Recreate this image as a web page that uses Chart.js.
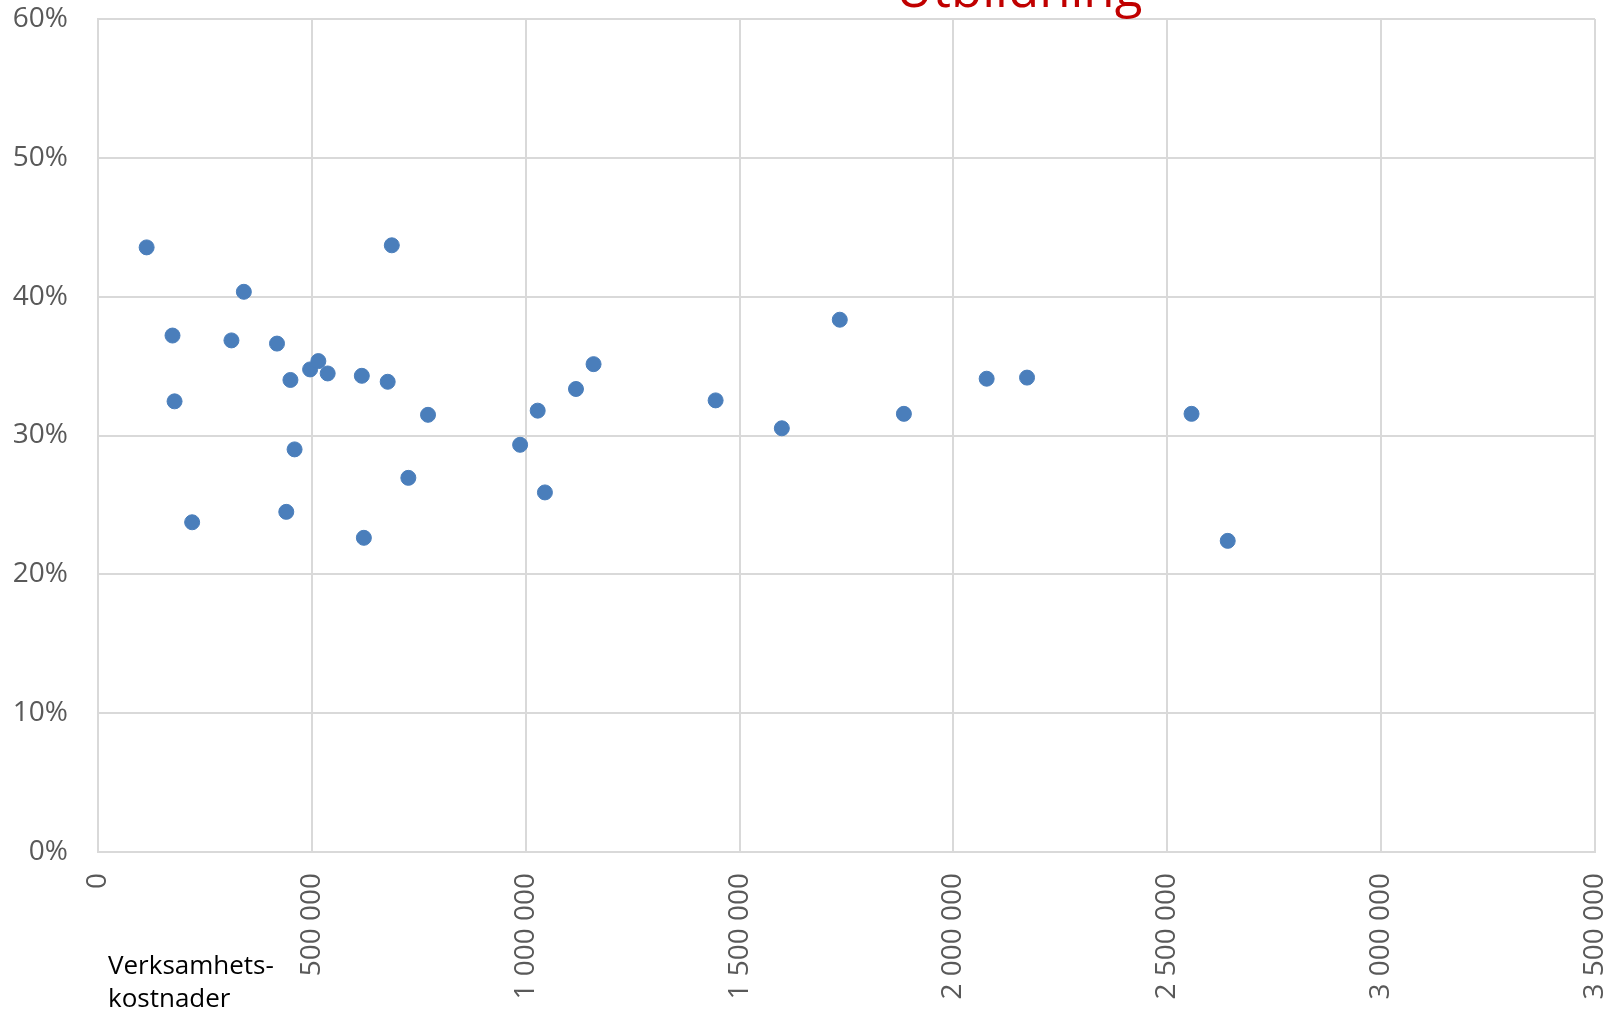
<!DOCTYPE html>
<html lang="sv">
<head>
    <meta charset="UTF-8">
    <title>Utbildning</title>
    <script src="https://cdn.jsdelivr.net/npm/chart.js"></script>
    <style>
        html, body { margin: 0; padding: 0; background: #fff; }
        #wrap { width: 1621px; height: 1014px; }
    </style>
</head>
<body>
    <div id="wrap"><canvas id="myChart"></canvas></div>

    <script>
        // Verksamhetskostnader (x) och andel (y, %)
        const costs = [113700, 174200, 179000, 220100, 312000, 341000, 418500, 440200,
            449900, 459600, 495900, 515200, 537000, 616800, 621600, 677300, 686900,
            725600, 771600, 986900, 1028000, 1044900, 1117500, 1158600, 1444000,
            1598800, 1734300, 1884200, 2077700, 2172100, 2556700, 2641300];
        const shares = [43.55, 37.2, 32.46, 23.75, 36.85, 40.35, 36.62, 24.5,
            34.0, 29.0, 34.76, 35.36, 34.47, 34.3, 22.63, 33.87, 43.7,
            26.95, 31.49, 29.33, 31.79, 25.9, 33.35, 35.14, 32.53,
            30.52, 38.34, 31.56, 34.09, 34.17, 31.56, 22.41];

        const chartTitle = 'Utbildning';
        const xAxisLabel = ['Verksamhets-', 'kostnader'];

        const points = costs.map((c, i) => ({ x: c, y: shares[i] }));

        function formatSpaces(v) {
            return String(Math.round(v)).replace(/\B(?=(\d{3})+(?!\d))/g, ' ');
        }

        // titeln sticker upp ovanför bilden, och axeltexten nere till vänster
        const extraText = {
            id: 'extraText',
            afterDraw(chart) {
                const ctx = chart.ctx;
                ctx.save();
                ctx.fillStyle = '#C00000';
                ctx.font = '51px "Open Sans"';
                ctx.textAlign = 'center';
                ctx.textBaseline = 'alphabetic';
                ctx.fillText(chartTitle, 1019, 7);

                ctx.fillStyle = '#000';
                ctx.font = '26px "Open Sans"';
                ctx.textAlign = 'left';
                ctx.textBaseline = 'middle';
                ctx.fillText(xAxisLabel[0], 108, 967);
                ctx.fillText(xAxisLabel[1], 108, 1000);
                ctx.restore();
            }
        };

        const ctx = document.getElementById('myChart').getContext('2d');
        new Chart(ctx, {
            type: 'scatter',
            data: {
                datasets: [{
                    label: chartTitle,
                    data: points,
                    backgroundColor: '#4A7EBB',
                    borderColor: '#4A7EBB',
                    pointRadius: 7.5,
                    pointHoverRadius: 7.5
                }]
            },
            options: {
                responsive: true,
                maintainAspectRatio: false,
                animation: false,
                layout: { padding: { top: 19, right: 26, left: 0, bottom: 0 } },
                plugins: {
                    legend: { display: false },
                    tooltip: { enabled: false }
                },
                scales: {
                    x: {
                        type: 'linear',
                        min: 0,
                        max: 3500000,
                        afterFit(scale) {
                            scale.height = 162;
                            scale.paddingLeft = 0;
                            scale.paddingRight = 0;
                        },
                        ticks: {
                            stepSize: 500000,
                            minRotation: 90,
                            maxRotation: 90,
                            padding: 21,
                            color: '#595959',
                            font: { family: '"Open Sans"', size: 28 },
                            callback: v => formatSpaces(v)
                        },
                        grid: { color: '#D9D9D9', lineWidth: 2, drawTicks: false },
                        border: { color: '#D9D9D9', width: 2 }
                    },
                    y: {
                        min: 0,
                        max: 60,
                        afterFit(scale) {
                            scale.width = 98;
                            scale.paddingTop = 0;
                            scale.paddingBottom = 0;
                        },
                        ticks: {
                            stepSize: 10,
                            padding: 30,
                            color: '#595959',
                            font: { family: '"Open Sans"', size: 28 },
                            callback: v => v + '%'
                        },
                        grid: { color: '#D9D9D9', lineWidth: 2, drawTicks: false },
                        border: { color: '#D9D9D9', width: 2 }
                    }
                }
            },
            plugins: [extraText]
        });
    </script>
</body>
</html>
